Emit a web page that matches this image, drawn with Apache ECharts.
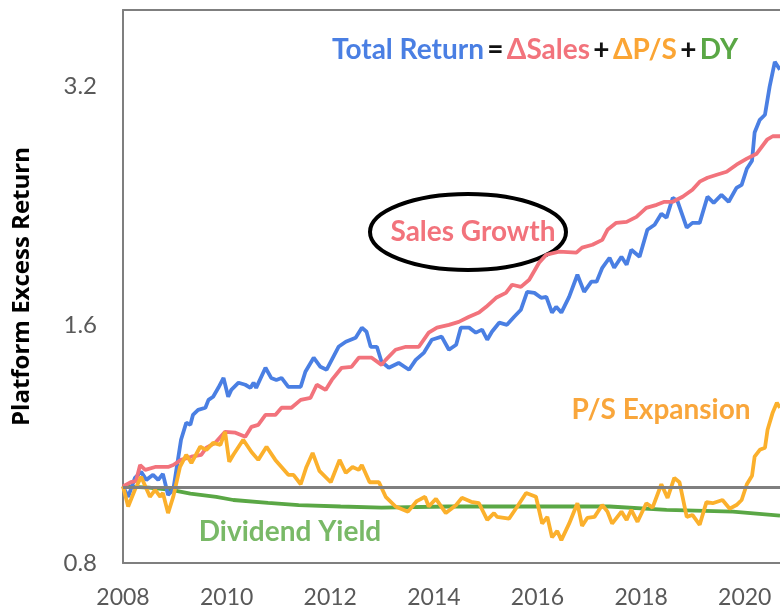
<!DOCTYPE html>
<html>
<head>
<meta charset="utf-8">
<title>Platform Excess Return</title>
<script src="https://cdn.jsdelivr.net/npm/echarts@6/dist/echarts.min.js"></script>
<style>
  html, body { margin: 0; padding: 0; background: #fff; }
  #chart { width: 780px; height: 614px; }
</style>
</head>
<body>
<div id="chart"></div>
<script>
// [year, cumulative excess return]
const totalReturn = [
  [2008.00, 1.000], [2008.10, 0.970], [2008.23, 1.025], [2008.35, 1.043], [2008.45, 1.019],
  [2008.58, 1.034], [2008.68, 1.019], [2008.77, 1.037], [2008.87, 0.975], [2008.97, 0.990],
  [2009.06, 1.080], [2009.12, 1.145], [2009.22, 1.203], [2009.30, 1.196], [2009.35, 1.231],
  [2009.45, 1.249], [2009.59, 1.257], [2009.65, 1.286], [2009.74, 1.298], [2009.84, 1.332],
  [2009.94, 1.371], [2010.03, 1.298], [2010.09, 1.324], [2010.23, 1.352], [2010.36, 1.344],
  [2010.46, 1.332], [2010.52, 1.352], [2010.57, 1.332], [2010.75, 1.412], [2010.86, 1.371],
  [2010.96, 1.363], [2011.06, 1.371], [2011.19, 1.336], [2011.43, 1.336], [2011.52, 1.396],
  [2011.68, 1.454], [2011.81, 1.416], [2011.93, 1.404], [2012.16, 1.501], [2012.30, 1.523],
  [2012.49, 1.541], [2012.61, 1.587], [2012.70, 1.568], [2012.78, 1.501], [2012.90, 1.501],
  [2012.99, 1.437], [2013.13, 1.412], [2013.32, 1.432], [2013.52, 1.404], [2013.65, 1.445],
  [2013.81, 1.476], [2013.96, 1.532], [2014.15, 1.546], [2014.29, 1.488], [2014.43, 1.510],
  [2014.52, 1.587], [2014.68, 1.587], [2014.81, 1.564], [2014.93, 1.578], [2015.03, 1.532],
  [2015.12, 1.568], [2015.26, 1.610], [2015.41, 1.600], [2015.55, 1.638], [2015.68, 1.672],
  [2015.80, 1.761], [2015.94, 1.756], [2016.07, 1.731], [2016.17, 1.736], [2016.28, 1.658],
  [2016.36, 1.686], [2016.46, 1.658], [2016.61, 1.736], [2016.77, 1.851], [2016.90, 1.761],
  [2017.04, 1.814], [2017.14, 1.814], [2017.25, 1.889], [2017.39, 1.945], [2017.48, 1.889],
  [2017.62, 1.951], [2017.72, 1.906], [2017.81, 1.991], [2017.97, 1.951], [2018.12, 2.110],
  [2018.26, 2.141], [2018.39, 2.211], [2018.49, 2.185], [2018.61, 2.316], [2018.70, 2.295],
  [2018.88, 2.123], [2018.99, 2.153], [2019.13, 2.153], [2019.28, 2.323], [2019.40, 2.282],
  [2019.55, 2.336], [2019.69, 2.289], [2019.84, 2.384], [2019.94, 2.405], [2020.04, 2.520],
  [2020.14, 2.580], [2020.19, 2.800], [2020.29, 2.906], [2020.39, 2.949], [2020.48, 3.200],
  [2020.58, 3.440], [2020.68, 3.363]
];

const salesGrowth = [
  [2008.00, 1.000], [2008.15, 1.012], [2008.25, 1.015], [2008.33, 1.064], [2008.43, 1.049],
  [2008.62, 1.058], [2008.87, 1.058], [2008.97, 1.064], [2009.12, 1.080], [2009.32, 1.090],
  [2009.51, 1.096], [2009.61, 1.119], [2009.78, 1.135], [2009.97, 1.172], [2010.17, 1.169],
  [2010.36, 1.155], [2010.48, 1.189], [2010.61, 1.196], [2010.75, 1.231], [2010.94, 1.231],
  [2011.06, 1.257], [2011.25, 1.257], [2011.43, 1.286], [2011.62, 1.294], [2011.74, 1.344],
  [2011.91, 1.324], [2012.03, 1.363], [2012.22, 1.412], [2012.41, 1.416], [2012.55, 1.454],
  [2012.80, 1.454], [2012.99, 1.424], [2013.07, 1.445], [2013.26, 1.488], [2013.46, 1.501],
  [2013.71, 1.501], [2013.90, 1.564], [2014.06, 1.587], [2014.29, 1.600], [2014.48, 1.614],
  [2014.68, 1.638], [2014.87, 1.658], [2015.01, 1.686], [2015.20, 1.731], [2015.39, 1.756],
  [2015.51, 1.798], [2015.68, 1.787], [2015.84, 1.824], [2016.03, 1.917], [2016.17, 1.962],
  [2016.42, 1.980], [2016.75, 1.974], [2016.86, 2.003], [2017.06, 2.020], [2017.25, 2.049],
  [2017.35, 2.110], [2017.52, 2.153], [2017.72, 2.159], [2017.91, 2.191], [2018.10, 2.249],
  [2018.30, 2.269], [2018.45, 2.289], [2018.61, 2.289], [2018.80, 2.323], [2018.99, 2.371],
  [2019.13, 2.427], [2019.28, 2.455], [2019.46, 2.476], [2019.65, 2.498], [2019.84, 2.550],
  [2020.04, 2.595], [2020.23, 2.633], [2020.43, 2.742], [2020.54, 2.770], [2020.68, 2.770]
];

const psExpansion = [
  [2008.00, 1.000], [2008.10, 0.943], [2008.23, 0.990], [2008.35, 1.028], [2008.52, 0.970],
  [2008.62, 0.990], [2008.72, 0.970], [2008.77, 0.981], [2008.87, 0.925], [2008.97, 0.970],
  [2009.10, 1.058], [2009.22, 1.096], [2009.32, 1.070], [2009.49, 1.122], [2009.61, 1.112],
  [2009.74, 1.135], [2009.88, 1.128], [2009.97, 1.172], [2010.05, 1.074], [2010.13, 1.096],
  [2010.32, 1.145], [2010.48, 1.105], [2010.61, 1.080], [2010.77, 1.122], [2010.94, 1.080],
  [2011.19, 1.034], [2011.29, 1.034], [2011.43, 1.006], [2011.54, 1.058], [2011.66, 1.102],
  [2011.79, 1.046], [2012.01, 1.012], [2012.18, 1.080], [2012.30, 1.040], [2012.43, 1.058],
  [2012.55, 1.049], [2012.61, 1.064], [2012.76, 1.012], [2012.94, 1.012], [2013.07, 0.970],
  [2013.26, 0.943], [2013.50, 0.929], [2013.67, 0.958], [2013.83, 0.970], [2013.90, 0.943],
  [2014.04, 0.964], [2014.23, 0.925], [2014.43, 0.947], [2014.54, 0.967], [2014.72, 0.956],
  [2014.87, 0.952], [2015.03, 0.907], [2015.16, 0.925], [2015.22, 0.915], [2015.45, 0.910],
  [2015.61, 0.943], [2015.78, 0.981], [2015.97, 0.970], [2016.09, 0.897], [2016.19, 0.915],
  [2016.28, 0.862], [2016.38, 0.878], [2016.46, 0.855], [2016.61, 0.897], [2016.77, 0.952],
  [2016.86, 0.891], [2016.96, 0.912], [2017.10, 0.915], [2017.25, 0.947], [2017.35, 0.929],
  [2017.44, 0.897], [2017.62, 0.929], [2017.72, 0.907], [2017.81, 0.934], [2017.93, 0.902],
  [2018.10, 0.952], [2018.22, 0.940], [2018.39, 1.006], [2018.51, 0.967], [2018.64, 1.025],
  [2018.74, 1.012], [2018.88, 0.915], [2018.99, 0.920], [2019.13, 0.894], [2019.26, 0.955],
  [2019.38, 0.952], [2019.57, 0.961], [2019.71, 0.937], [2019.84, 0.947], [2019.94, 0.961],
  [2020.04, 1.006], [2020.14, 1.031], [2020.19, 1.090], [2020.29, 1.112], [2020.39, 1.119],
  [2020.44, 1.179], [2020.54, 1.240], [2020.62, 1.275], [2020.68, 1.257]
];

const dividendYield = [
  [2008.00, 1.000], [2008.50, 0.996], [2008.93, 0.990], [2009.30, 0.979], [2009.80, 0.970],
  [2010.13, 0.961], [2010.80, 0.953], [2011.39, 0.947], [2012.20, 0.943], [2012.99, 0.940],
  [2014.29, 0.943], [2017.39, 0.943], [2018.49, 0.934], [2019.77, 0.929], [2020.68, 0.918]
];

const xTicks = [2008, 2010, 2012, 2014, 2016, 2018, 2020];
const yTicks = [0.8, 1.6, 3.2];
const xMin = 2008;
const xMax = 2020.68;
const yBase = 0.8;   // bottom of the log2 axis
const yTop = 4.0;    // top of the log2 axis

const colors = {
  total: '#4a7fe3',
  sales: '#f2737c',
  ps: '#fbb02c',
  dy: '#5aa745',
  frame: '#7f7f7f'
};

// the axis is log2, so plot log2(v / base)
const toLog = pts => pts.map(p => [p[0], Math.log2(p[1] / yBase)]);

const chart = echarts.init(document.getElementById('chart'));

const lineSeries = (name, data, color, width) => ({
  name: name,
  type: 'line',
  data: toLog(data),
  showSymbol: false,
  symbol: 'none',
  smooth: false,
  lineStyle: { color: color, width: width },
  emphasis: { disabled: true }
});

const option = {
  animation: false,
  backgroundColor: '#ffffff',
  grid: {
    left: 123,
    right: 0,
    top: 10,
    bottom: 51,
    containLabel: false,
    outerBoundsMode: 'none'
  },
  xAxis: [
    {
      type: 'value',
      min: xMin,
      max: xMax,
      interval: 2,
      axisLine: { show: true, lineStyle: { color: colors.frame, width: 2 } },
      axisTick: { show: false },
      splitLine: { show: false },
      axisLabel: {
        margin: 23,
        color: '#595959',
        fontFamily: 'Lato',
        fontSize: 23,
        showMaxLabel: false,
        formatter: v => (xTicks.indexOf(v) >= 0 ? String(v) : '')
      }
    },
    {
      // top edge of the frame
      type: 'value',
      position: 'top',
      min: xMin,
      max: xMax,
      axisLine: { show: true, onZero: false, lineStyle: { color: colors.frame, width: 2 } },
      axisTick: { show: false },
      axisLabel: { show: false },
      splitLine: { show: false }
    }
  ],
  yAxis: {
    type: 'value',
    min: 0,
    max: Math.log2(yTop / yBase),
    interval: 1,
    name: 'Platform Excess Return',
    nameLocation: 'middle',
    nameGap: 89,
    nameRotate: 90,
    nameTextStyle: {
      color: '#000000',
      fontFamily: 'Open Sans',
      fontWeight: 'bold',
      fontSize: 24
    },
    axisLine: { show: true, lineStyle: { color: colors.frame, width: 2 } },
    axisTick: { show: false },
    splitLine: { show: false },
    axisLabel: {
      margin: 26,
      color: '#595959',
      fontFamily: 'Lato',
      fontSize: 24,
      showMaxLabel: false,
      formatter: v => {
        const val = +(yBase * Math.pow(2, v)).toFixed(1);
        return yTicks.indexOf(val) >= 0 ? val.toFixed(1) : '';
      }
    }
  },
  series: [
    Object.assign(lineSeries('Dividend Yield', dividendYield, colors.dy, 3.8), {
      markLine: {
        silent: true,
        symbol: 'none',
        label: { show: false },
        lineStyle: { color: colors.frame, width: 3, type: 'solid' },
        data: [{ yAxis: Math.log2(1 / yBase) }]
      }
    }),
    lineSeries('Total Return', totalReturn, colors.total, 3.8),
    lineSeries('Sales Growth', salesGrowth, colors.sales, 3.8),
    lineSeries('P/S Expansion', psExpansion, colors.ps, 3.8)
  ],
  graphic: [
    {
      type: 'text',
      x: 332,
      y: 50,
      style: {
        text: '{b|Total Return} {k|=} {r|ΔSales} {k|+} {o|ΔP/S} {k|+} {g|DY}',
        verticalAlign: 'middle',
        rich: {
          b: { fill: colors.total, font: 'bold 28px Lato' },
          k: { fill: '#111111', font: 'bold 28px Lato' },
          r: { fill: colors.sales, font: 'bold 28px Lato' },
          o: { fill: '#fba534', font: 'bold 28px Lato' },
          g: { fill: colors.dy, font: 'bold 28px Lato' }
        }
      }
    },
    {
      type: 'ellipse',
      shape: { cx: 468, cy: 232, rx: 98, ry: 38 },
      style: { fill: null, stroke: '#000000', lineWidth: 4 }
    },
    {
      type: 'text',
      x: 473,
      y: 232,
      style: {
        text: 'Sales Growth',
        fill: '#f2737c',
        font: 'bold 28px Lato',
        align: 'center',
        verticalAlign: 'middle'
      }
    },
    {
      type: 'text',
      x: 661,
      y: 410,
      style: {
        text: 'P/S Expansion',
        fill: '#f9a63b',
        font: 'bold 28px Lato',
        align: 'center',
        verticalAlign: 'middle'
      }
    },
    {
      type: 'text',
      x: 290,
      y: 532,
      style: {
        text: 'Dividend Yield',
        fill: '#79b967',
        font: 'bold 28px Lato',
        align: 'center',
        verticalAlign: 'middle'
      }
    }
  ]
};

chart.setOption(option);
</script>
</body>
</html>
